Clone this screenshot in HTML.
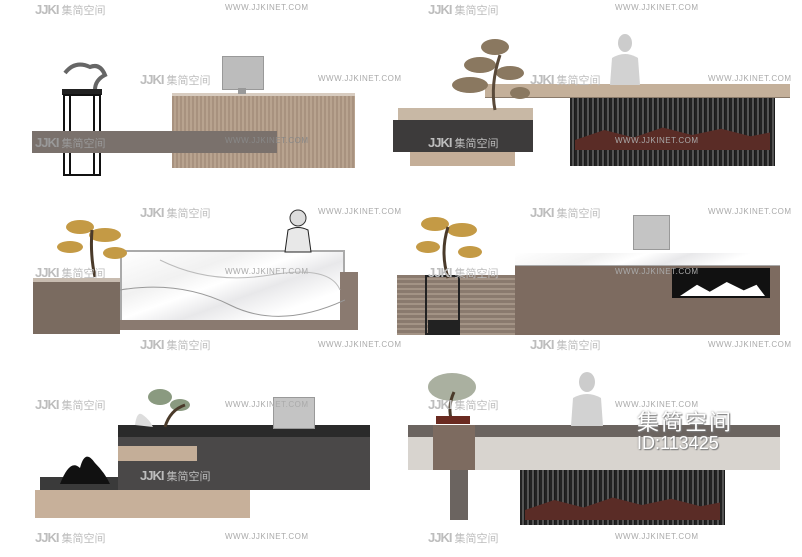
<!DOCTYPE html>
<html><head><meta charset="utf-8"><style>
html,body{margin:0;padding:0;background:#fff}
body{width:802px;height:557px;position:relative;overflow:hidden;font-family:"Liberation Sans","Noto Sans CJK SC",sans-serif}
.a{position:absolute}
.wm{position:absolute;color:#bdbdbd;font-size:11px;white-space:nowrap}
.wm b{font-weight:bold;font-size:13px;letter-spacing:-1px}
.url{position:absolute;color:#aaa;font-size:8px;letter-spacing:0.5px}
.stripe{background:repeating-linear-gradient(90deg,#222 0 2px,#555 2px 4px,#1a1a1a 4px 5px)}
.hstripe{background:repeating-linear-gradient(180deg,#8a7a6e 0 3px,#a39385 3px 5px)}
.marble{background:linear-gradient(160deg,#fff 0,#f1f1f1 30%,#fff 45%,#e8e8ea 60%,#fff 80%)}
</style></head><body>
<!-- Panel 1 -->
<div class="a" style="left:172px;top:93px;width:183px;height:75px;background:repeating-linear-gradient(90deg,#a8927f 0 2px,#b8a38f 2px 4px);border-top:3px solid #d8ccc0;box-sizing:border-box"></div>
<div class="a" style="left:222px;top:56px;width:40px;height:32px;background:#bcbcbc;border:1px solid #999"></div>
<div class="a" style="left:238px;top:88px;width:8px;height:6px;background:#999"></div>
<svg class="a" style="left:50px;top:55px" width="70" height="125"><path d="M15 18 Q25 5 40 12 Q50 8 55 20 Q45 25 45 35" stroke="#666" stroke-width="4" fill="none"/><rect x="12" y="34" width="40" height="6" fill="#222"/><rect x="14" y="40" width="36" height="80" fill="none" stroke="#111" stroke-width="2"/><line x1="20" y1="40" x2="20" y2="120" stroke="#111" stroke-width="2"/><line x1="44" y1="40" x2="44" y2="120" stroke="#111" stroke-width="2"/></svg>
<div class="a" style="left:32px;top:131px;width:245px;height:22px;background:#7a716c"></div>

<!-- Panel 2 -->
<div class="a stripe" style="left:570px;top:97px;width:205px;height:69px"></div>
<div class="a" style="left:575px;top:125px;width:195px;height:25px;background:#5a2c26;clip-path:polygon(0 60%,15% 20%,30% 50%,45% 10%,60% 40%,75% 15%,90% 45%,100% 30%,100% 100%,0 100%)"></div>
<div class="a" style="left:485px;top:84px;width:305px;height:13px;background:#c4b09a;border-bottom:1px solid #8a7a6a"></div>
<div class="a" style="left:393px;top:120px;width:140px;height:32px;background:#3d3b3b"></div>
<div class="a" style="left:410px;top:152px;width:105px;height:14px;background:#c4ae98"></div>
<div class="a" style="left:398px;top:108px;width:135px;height:12px;background:#c8b8a5"></div>
<svg class="a" style="left:600px;top:33px" width="50" height="55"><ellipse cx="25" cy="10" rx="7" ry="9" fill="#ccc"/><path d="M10 52 L12 25 Q25 17 38 25 L40 52Z" fill="#d2d2d2"/></svg>
<svg class="a" style="left:445px;top:35px" width="95" height="78"><g fill="#8a7860"><ellipse cx="50" cy="12" rx="14" ry="8"/><ellipse cx="35" cy="30" rx="16" ry="8"/><ellipse cx="65" cy="38" rx="14" ry="7"/><ellipse cx="25" cy="50" rx="18" ry="8"/><ellipse cx="75" cy="58" rx="10" ry="6"/></g><path d="M50 75 Q45 50 55 20" stroke="#5a4a3a" stroke-width="3" fill="none"/></svg>

<!-- Panel 3 -->
<div class="a" style="left:33px;top:278px;width:87px;height:52px;background:#7a6b60;border-top:4px solid #c8bcb0"></div>
<div class="a marble" style="left:120px;top:250px;width:225px;height:72px;border:2px solid #aaa;box-sizing:border-box"></div>
<div class="a" style="left:340px;top:272px;width:18px;height:58px;background:#8a7a70"></div>
<div class="a" style="left:120px;top:320px;width:238px;height:10px;background:#8a7a70"></div>
<svg class="a" style="left:120px;top:250px" width="225" height="70"><path d="M0 40 Q60 30 110 55 T225 50" stroke="#999" fill="none"/><path d="M40 10 Q90 35 150 25 T220 40" stroke="#bbb" fill="none"/></svg>
<svg class="a" style="left:50px;top:215px" width="85" height="65"><g fill="#c49a45"><ellipse cx="30" cy="12" rx="14" ry="7"/><ellipse cx="55" cy="20" rx="16" ry="7"/><ellipse cx="20" cy="32" rx="13" ry="6"/><ellipse cx="65" cy="38" rx="12" ry="6"/></g><path d="M45 62 Q40 40 42 15" stroke="#4a3a2a" stroke-width="3" fill="none"/></svg>
<svg class="a" style="left:282px;top:208px" width="32" height="45"><circle cx="16" cy="10" r="8" fill="#ddd" stroke="#333"/><path d="M3 44 L6 22 Q16 17 26 22 L29 44Z" fill="#e8e8e8" stroke="#222"/></svg>

<!-- Panel 4 -->
<div class="a" style="left:515px;top:265px;width:265px;height:70px;background:#7d6b60"></div>
<div class="a marble" style="left:515px;top:253px;width:265px;height:12px;border-bottom:1px solid #aaa"></div>
<div class="a hstripe" style="left:397px;top:275px;width:118px;height:60px"></div>
<div class="a" style="left:672px;top:268px;width:98px;height:30px;background:#111"></div>
<div class="a" style="left:680px;top:282px;width:85px;height:14px;background:#fff;clip-path:polygon(0 100%,20% 20%,35% 70%,55% 0,75% 60%,90% 20%,100% 100%)"></div>
<div class="a" style="left:633px;top:215px;width:35px;height:33px;background:#c4c4c4;border:1px solid #999"></div>
<div class="a" style="left:425px;top:275px;width:35px;height:60px;border:2px solid #222;box-sizing:border-box"></div>
<div class="a" style="left:428px;top:320px;width:30px;height:15px;background:#222"></div>
<svg class="a" style="left:410px;top:212px" width="80" height="68"><g fill="#c49a45"><ellipse cx="25" cy="12" rx="14" ry="7"/><ellipse cx="52" cy="18" rx="15" ry="7"/><ellipse cx="18" cy="35" rx="12" ry="6"/><ellipse cx="60" cy="40" rx="12" ry="6"/></g><path d="M38 66 Q30 40 38 15" stroke="#4a3a2a" stroke-width="3" fill="none"/></svg>

<!-- Panel 5 -->
<div class="a" style="left:118px;top:425px;width:252px;height:65px;background:#4a4848;border-top:12px solid #2a2a2a;box-sizing:border-box"></div>
<div class="a" style="left:118px;top:446px;width:79px;height:15px;background:#c4ae98"></div>
<div class="a" style="left:40px;top:477px;width:78px;height:13px;background:#3a3a3a"></div>
<div class="a" style="left:35px;top:490px;width:215px;height:28px;background:#c7b09a"></div>
<svg class="a" style="left:55px;top:448px" width="60" height="40"><path d="M5 36 Q15 10 25 20 Q30 0 40 15 Q50 25 55 36Z" fill="#111"/></svg>
<div class="a" style="left:273px;top:397px;width:40px;height:30px;background:#c4c4c4;border:1px solid #999"></div>
<svg class="a" style="left:125px;top:385px" width="75" height="45"><g fill="#8a9a80"><ellipse cx="35" cy="12" rx="12" ry="8"/><ellipse cx="55" cy="20" rx="10" ry="6"/></g><path d="M10 40 Q12 25 18 30 Q25 35 28 42Z" fill="#ddd"/><path d="M40 42 Q45 25 60 20" stroke="#4a3a2a" stroke-width="3" fill="none"/></svg>

<!-- Panel 6 -->
<div class="a stripe" style="left:520px;top:470px;width:205px;height:55px"></div>
<div class="a" style="left:525px;top:495px;width:195px;height:25px;background:#5a2c26;clip-path:polygon(0 60%,15% 20%,30% 50%,45% 10%,60% 40%,75% 15%,90% 45%,100% 30%,100% 100%,0 100%)"></div>
<div class="a" style="left:408px;top:425px;width:372px;height:45px;background:#d8d4cf;border-top:12px solid #6b6460;box-sizing:border-box"></div>
<div class="a" style="left:433px;top:425px;width:42px;height:45px;background:#7d6b60"></div>
<div class="a" style="left:450px;top:470px;width:18px;height:50px;background:#6b6460"></div>
<svg class="a" style="left:422px;top:372px" width="62" height="55"><g fill="#aab0a0"><ellipse cx="30" cy="15" rx="24" ry="14"/></g><path d="M30 50 Q25 35 32 20" stroke="#4a3a2a" stroke-width="3" fill="none"/><rect x="14" y="44" width="34" height="8" fill="#6a2a20"/></svg>
<svg class="a" style="left:565px;top:370px" width="45" height="58"><ellipse cx="22" cy="12" rx="8" ry="10" fill="#ccc"/><path d="M6 56 L8 28 Q22 20 36 28 L38 56Z" fill="#d2d2d2"/></svg>

<!-- watermarks -->
<div class="wm" style="left:35px;top:2px"><b>JJKI</b> 集简空间</div><div class="url" style="left:225px;top:3px">WWW.JJKINET.COM</div>
<div class="wm" style="left:428px;top:2px"><b>JJKI</b> 集简空间</div><div class="url" style="left:615px;top:3px">WWW.JJKINET.COM</div>
<div class="url" style="left:318px;top:74px">WWW.JJKINET.COM</div><div class="url" style="left:708px;top:74px">WWW.JJKINET.COM</div>
<div class="wm" style="left:140px;top:72px"><b>JJKI</b> 集简空间</div><div class="wm" style="left:530px;top:72px"><b>JJKI</b> 集简空间</div>
<div class="wm" style="left:35px;top:135px;color:#999"><b>JJKI</b> 集简空间</div><div class="url" style="left:225px;top:136px;color:#888">WWW.JJKINET.COM</div>
<div class="wm" style="left:428px;top:135px"><b>JJKI</b> 集简空间</div><div class="url" style="left:615px;top:136px">WWW.JJKINET.COM</div>
<div class="wm" style="left:140px;top:205px"><b>JJKI</b> 集简空间</div><div class="url" style="left:318px;top:207px">WWW.JJKINET.COM</div>
<div class="wm" style="left:530px;top:205px"><b>JJKI</b> 集简空间</div><div class="url" style="left:708px;top:207px">WWW.JJKINET.COM</div>
<div class="wm" style="left:35px;top:265px"><b>JJKI</b> 集简空间</div><div class="url" style="left:225px;top:267px">WWW.JJKINET.COM</div>
<div class="wm" style="left:428px;top:265px"><b>JJKI</b> 集简空间</div><div class="url" style="left:615px;top:267px">WWW.JJKINET.COM</div>
<div class="wm" style="left:140px;top:337px"><b>JJKI</b> 集简空间</div><div class="url" style="left:318px;top:340px">WWW.JJKINET.COM</div>
<div class="wm" style="left:530px;top:337px"><b>JJKI</b> 集简空间</div><div class="url" style="left:708px;top:340px">WWW.JJKINET.COM</div>
<div class="wm" style="left:35px;top:397px"><b>JJKI</b> 集简空间</div><div class="url" style="left:225px;top:400px">WWW.JJKINET.COM</div>
<div class="wm" style="left:428px;top:397px"><b>JJKI</b> 集简空间</div><div class="url" style="left:615px;top:400px">WWW.JJKINET.COM</div>
<div class="wm" style="left:140px;top:468px"><b>JJKI</b> 集简空间</div>
<div class="wm" style="left:35px;top:530px"><b>JJKI</b> 集简空间</div><div class="url" style="left:225px;top:532px">WWW.JJKINET.COM</div>
<div class="wm" style="left:428px;top:530px"><b>JJKI</b> 集简空间</div><div class="url" style="left:615px;top:532px">WWW.JJKINET.COM</div>
<div class="a" style="left:637px;top:405px;color:#fff;font-size:22px;text-shadow:0 0 2px #888,1px 1px 1px #777;letter-spacing:2px">集简空间</div>
<div class="a" style="left:637px;top:433px;color:#fff;font-size:18px;text-shadow:0 0 2px #888,1px 1px 1px #777">ID:113425</div>
</body></html>
